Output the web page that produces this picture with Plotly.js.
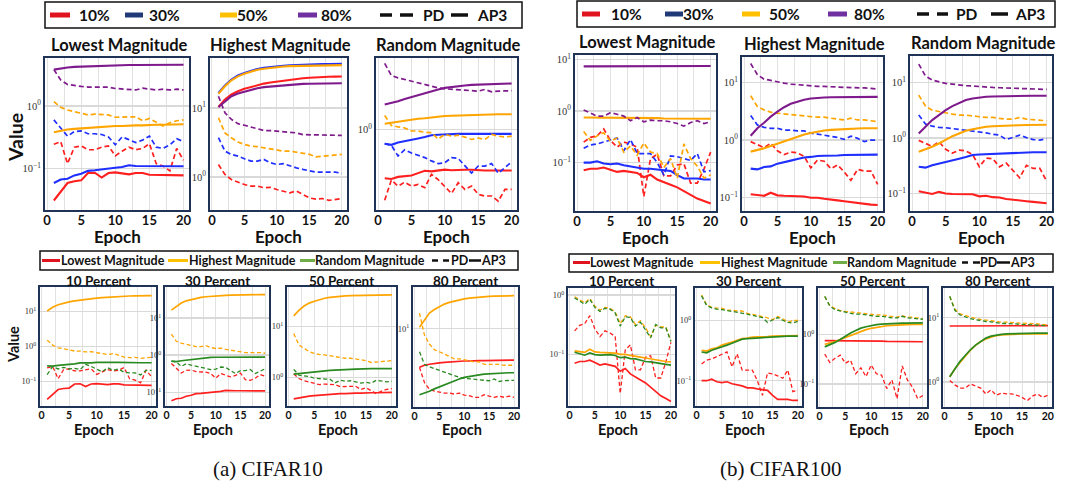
<!DOCTYPE html>
<html><head><meta charset="utf-8">
<script src="https://cdn.plot.ly/plotly-3.0.1.min.js"></script>
<style>html,body{margin:0;padding:0;background:#fff}#chart{width:1080px;height:493px}</style>
</head><body><div id="chart"></div>
<script>
// ---------------- DATA ----------------
const epochs = [1,2,3,4,5,6,7,8,9,10,11,12,13,14,15,16,17,18,19,20];
const percents = [10,30,50,80];
const methods = ['low','high','rand'];
const methodNames = {low:'Lowest Magnitude', high:'Highest Magnitude', rand:'Random Magnitude'};
const datasetNames = ['(a) CIFAR10','(b) CIFAR100'];
const yTickVals = [0.01,0.1,1,10,100];
const yTickText = ['10<sup>−2</sup>','10<sup>−1</sup>','10<sup>0</sup>','10<sup>1</sup>','10<sup>2</sup>'];
const xTickVals = [0,5,10,15,20];

// CIFAR10 - Lowest magnitude
const c10_low10_ap3 = [0.031,0.042,0.059,0.063,0.065,0.085,0.086,0.072,0.085,0.087,0.085,0.081,0.085,0.085,0.080,0.080,0.079,0.078,0.078,0.078];
const c10_low10_pd  = [0.245,0.27,0.12,0.22,0.23,0.20,0.20,0.22,0.23,0.16,0.19,0.22,0.20,0.21,0.25,0.12,0.11,0.092,0.21,0.136];
const c10_low30_ap3 = [0.059,0.067,0.069,0.078,0.083,0.092,0.094,0.096,0.10,0.103,0.106,0.113,0.11,0.11,0.11,0.109,0.109,0.109,0.109,0.109];
const c10_low30_pd  = [0.60,0.44,0.33,0.39,0.40,0.36,0.36,0.35,0.32,0.24,0.32,0.29,0.26,0.285,0.33,0.22,0.21,0.24,0.30,0.27];
const c10_low50_ap3 = [0.38,0.40,0.42,0.43,0.44,0.45,0.46,0.46,0.47,0.48,0.48,0.49,0.49,0.49,0.50,0.50,0.50,0.50,0.51,0.51];
const c10_low50_pd  = [1.17,0.95,0.86,0.81,0.76,0.72,0.74,0.73,0.72,0.66,0.67,0.67,0.67,0.58,0.63,0.55,0.48,0.54,0.58,0.60];
const c10_low80_ap3 = [3.8,4.0,4.1,4.2,4.25,4.3,4.35,4.4,4.4,4.45,4.45,4.5,4.5,4.5,4.5,4.5,4.55,4.55,4.55,4.55];
const c10_low80_pd  = [3.8,2.6,2.2,2.1,2.05,2.0,2.0,1.95,2.0,1.9,1.87,1.8,1.8,1.92,1.85,1.8,1.85,1.8,1.85,1.8];
// CIFAR10 - Highest magnitude
const c10_high10_ap3 = [10.3,13.2,15.6,17.4,18.8,20.1,21.2,22.4,23.2,24.0,24.8,25.6,26.2,26.8,27.2,27.7,27.9,28.1,28.2,28.3];
const c10_high10_pd  = [1.52,1.09,0.92,0.85,0.78,0.74,0.74,0.70,0.71,0.66,0.63,0.59,0.63,0.56,0.50,0.48,0.49,0.46,0.48,0.49];
const c10_high30_ap3 = [16.4,21,25.6,29.3,32,34.5,36.5,37.8,39,39.9,40.6,41.2,41.7,42.2,42.5,42.7,42.9,43,43.1,43.2];
const c10_high30_pd  = [3.7,2.37,2.12,2.01,1.84,1.7,1.7,1.8,1.61,1.52,1.56,1.44,1.36,1.29,1.22,1.18,1.18,1.19,1.18,1.13];
const c10_high50_ap3 = [16,20.5,25,28.5,31,33.5,35.5,36.8,38,38.8,39.5,40,40.3,40.6,40.8,41,41.1,41.2,41.3,41.4];
const c10_high50_pd  = [7.2,4.35,3.7,3.2,2.96,2.8,2.75,2.65,2.55,2.5,2.37,2.37,2.3,2.25,2.13,1.96,2.0,2.05,2.08,2.13];
const c10_high80_ap3 = [10.3,12.5,14.7,16.1,17.2,18.4,19.2,19.9,20.3,21,21.4,21.7,22,22.2,22.3,22.4,22.5,22.6,22.7,22.7];
const c10_high80_pd  = [14.7,8.5,6.8,5.9,5.6,5.3,5.0,4.7,4.7,4.6,4.5,4.35,4.35,4.1,4.1,4.1,4.1,4.0,4.0,4.0];
// CIFAR10 - Random magnitude
const c10_rand10_ap3 = [0.28,0.275,0.29,0.295,0.30,0.32,0.34,0.335,0.34,0.35,0.345,0.35,0.35,0.35,0.345,0.343,0.343,0.343,0.343,0.343];
const c10_rand10_pd  = [0.158,0.267,0.228,0.253,0.228,0.238,0.219,0.31,0.27,0.228,0.188,0.249,0.209,0.228,0.184,0.176,0.176,0.154,0.209,0.209];
const c10_rand30_ap3 = [0.69,0.67,0.71,0.74,0.77,0.79,0.82,0.86,0.87,0.88,0.885,0.89,0.89,0.89,0.89,0.89,0.89,0.89,0.89,0.89];
const c10_rand30_pd  = [0.69,0.66,0.50,0.59,0.54,0.51,0.48,0.44,0.41,0.42,0.48,0.47,0.385,0.32,0.385,0.385,0.41,0.32,0.37,0.43];
const c10_rand50_ap3 = [1.16,1.19,1.23,1.26,1.30,1.32,1.34,1.37,1.39,1.42,1.43,1.44,1.45,1.47,1.47,1.48,1.48,1.49,1.49,1.49];
const c10_rand50_pd  = [1.44,1.11,1.07,1.04,0.96,0.96,0.93,0.92,0.78,0.88,0.84,0.86,0.82,0.77,0.80,0.77,0.88,0.84,0.82,0.84];
const c10_rand80_ap3 = [1.92,2.0,2.09,2.22,2.34,2.45,2.6,2.72,2.84,2.96,3.04,3.1,3.15,3.2,3.23,3.26,3.29,3.3,3.32,3.32];
const c10_rand80_pd  = [5.6,4.09,3.85,3.68,3.53,3.38,3.23,3.1,2.96,2.89,2.84,2.8,2.79,2.75,2.72,2.84,2.67,2.72,2.75,2.75];

// CIFAR100 - Lowest magnitude
const c100_low10_ap3 = [0.071,0.076,0.076,0.080,0.073,0.066,0.069,0.066,0.063,0.052,0.058,0.047,0.041,0.037,0.033,0.028,0.024,0.020,0.018,0.016];
const c100_low10_pd  = [0.25,0.31,0.33,0.45,0.27,0.20,0.25,0.23,0.20,0.022,0.12,0.145,0.055,0.055,0.09,0.095,0.04,0.04,0.075,0.16];
const c100_low30_ap3 = [0.10,0.10,0.106,0.096,0.093,0.096,0.089,0.085,0.082,0.076,0.076,0.073,0.071,0.069,0.057,0.049,0.049,0.049,0.047,0.047];
const c100_low30_pd  = [0.19,0.22,0.23,0.25,0.27,0.30,0.17,0.28,0.15,0.15,0.15,0.10,0.057,0.135,0.13,0.12,0.11,0.15,0.066,0.07];
const c100_low50_ap3 = [0.75,0.75,0.75,0.75,0.74,0.74,0.74,0.74,0.73,0.73,0.73,0.73,0.72,0.72,0.72,0.72,0.72,0.71,0.71,0.71];
const c100_low50_pd  = [0.40,0.27,0.33,0.38,0.26,0.30,0.16,0.21,0.14,0.24,0.16,0.15,0.08,0.12,0.05,0.23,0.12,0.085,0.05,0.058];
const c100_low80_ap3 = [7.4,7.4,7.45,7.45,7.5,7.5,7.5,7.5,7.5,7.5,7.5,7.5,7.5,7.5,7.5,7.5,7.5,7.5,7.5,7.5];
const c100_low80_pd  = [1.05,0.90,0.80,0.80,0.93,0.87,0.80,0.65,0.75,0.62,0.67,0.65,0.65,0.62,0.575,0.51,0.60,0.65,0.575,0.62];
// CIFAR100 - Highest magnitude
const c100_high10_ap3 = [0.115,0.11,0.108,0.122,0.11,0.108,0.108,0.108,0.105,0.1,0.1,0.096,0.094,0.09,0.087,0.084,0.081,0.078,0.076,0.075];
const c100_high10_pd  = [0.94,0.84,0.74,0.88,0.65,0.56,0.62,0.6,0.52,0.33,0.45,0.43,0.32,0.37,0.28,0.2,0.31,0.29,0.29,0.17];
const c100_high30_ap3 = [0.32,0.31,0.34,0.35,0.39,0.42,0.44,0.47,0.5,0.51,0.53,0.533,0.533,0.54,0.55,0.55,0.56,0.56,0.56,0.56];
const c100_high30_pd  = [2.66,1.83,1.66,1.6,1.6,1.49,1.49,1.44,1.44,1.31,1.27,1.22,1.17,1.11,1.03,1.17,1.07,0.94,1.0,1.0];
const c100_high50_ap3 = [0.63,0.67,0.72,0.79,0.87,0.96,1.06,1.16,1.25,1.33,1.4,1.46,1.5,1.53,1.56,1.58,1.59,1.6,1.6,1.6];
const c100_high50_pd  = [5.85,3.81,3.34,3.04,2.92,2.84,2.73,2.62,2.55,2.55,2.49,2.49,2.39,2.29,2.23,2.39,2.23,2.23,2.17,2.09];
const c100_high80_ap3 = [1.19,1.6,2.0,2.55,3.12,3.71,4.25,4.66,4.99,5.26,5.4,5.47,5.52,5.55,5.57,5.58,5.59,5.6,5.6,5.6];
const c100_high80_pd  = [21.2,13.6,11.4,10.8,10.1,9.7,9.35,9.1,8.9,8.75,8.5,8.5,8.3,8.3,8.2,8.2,8.0,8.0,7.86,7.65];
// CIFAR100 - Random magnitude
const c100_rand10_ap3 = [0.109,0.103,0.097,0.106,0.099,0.097,0.097,0.099,0.096,0.088,0.09,0.085,0.084,0.079,0.076,0.075,0.072,0.07,0.068,0.066];
const c100_rand10_pd  = [0.9,0.8,0.7,0.85,0.62,0.53,0.6,0.58,0.5,0.3,0.43,0.42,0.3,0.35,0.26,0.19,0.32,0.28,0.28,0.165];
const c100_rand30_ap3 = [0.30,0.29,0.32,0.34,0.37,0.39,0.42,0.45,0.49,0.50,0.506,0.52,0.52,0.535,0.535,0.543,0.543,0.55,0.55,0.55];
const c100_rand30_pd  = [2.57,1.77,1.62,1.54,1.52,1.47,1.41,1.38,1.34,1.28,1.23,1.16,1.12,0.93,1.01,1.12,1.01,0.93,0.91,0.97];
const c100_rand50_ap3 = [0.56,0.62,0.69,0.79,0.93,1.07,1.2,1.34,1.43,1.52,1.58,1.62,1.65,1.67,1.69,1.69,1.7,1.71,1.72,1.72];
const c100_rand50_pd  = [5.9,3.73,3.16,2.95,2.83,2.68,2.57,2.57,2.46,2.4,2.33,2.33,2.24,2.17,2.17,2.33,2.17,2.14,2.09,2.03];
const c100_rand80_ap3 = [1.2,1.58,2.09,2.57,3.16,3.73,4.29,4.8,5.14,5.36,5.5,5.57,5.62,5.66,5.7,5.72,5.74,5.74,5.75,5.75];
const c100_rand80_pd  = [21.4,13,11,10.3,9.6,9.3,8.95,8.7,8.6,8.35,8.1,8.1,8.0,7.9,7.8,7.8,7.8,7.7,7.6,7.47];

const C10 = {
  low:  {10:{ap3:c10_low10_ap3,pd:c10_low10_pd},30:{ap3:c10_low30_ap3,pd:c10_low30_pd},50:{ap3:c10_low50_ap3,pd:c10_low50_pd},80:{ap3:c10_low80_ap3,pd:c10_low80_pd}},
  high: {10:{ap3:c10_high10_ap3,pd:c10_high10_pd},30:{ap3:c10_high30_ap3,pd:c10_high30_pd},50:{ap3:c10_high50_ap3,pd:c10_high50_pd},80:{ap3:c10_high80_ap3,pd:c10_high80_pd}},
  rand: {10:{ap3:c10_rand10_ap3,pd:c10_rand10_pd},30:{ap3:c10_rand30_ap3,pd:c10_rand30_pd},50:{ap3:c10_rand50_ap3,pd:c10_rand50_pd},80:{ap3:c10_rand80_ap3,pd:c10_rand80_pd}}
};
const C100 = {
  low:  {10:{ap3:c100_low10_ap3,pd:c100_low10_pd},30:{ap3:c100_low30_ap3,pd:c100_low30_pd},50:{ap3:c100_low50_ap3,pd:c100_low50_pd},80:{ap3:c100_low80_ap3,pd:c100_low80_pd}},
  high: {10:{ap3:c100_high10_ap3,pd:c100_high10_pd},30:{ap3:c100_high30_ap3,pd:c100_high30_pd},50:{ap3:c100_high50_ap3,pd:c100_high50_pd},80:{ap3:c100_high80_ap3,pd:c100_high80_pd}},
  rand: {10:{ap3:c100_rand10_ap3,pd:c100_rand10_pd},30:{ap3:c100_rand30_ap3,pd:c100_rand30_pd},50:{ap3:c100_rand50_ap3,pd:c100_rand50_pd},80:{ap3:c100_rand80_ap3,pd:c100_rand80_pd}}
};

// ---------------- STYLE / LAYOUT ----------------
const W = 1080, H = 493;
const px = x => x / W, py = y => 1 - y / H;
const pctColors = {10:'#ff1f1f', 30:'#1f2fff', 50:'#ffa500', 80:'#7f1a8c'};
const methColors = {low:'#ff1f1f', high:'#ffa500', rand:'#2a8a22'};
const frameColor = '#1f3356';
const gridColor = '#e2e2e2';
const SANS = 'Lato, "Open Sans", sans-serif';
const SERIF = '"Liberation Serif", "DejaVu Serif", serif';

const topPanels = [
  {ds:C10,  m:'low',  x:[45,189],  y:[58,210], yr:[-1.66,0.765], ey:236.5},
  {ds:C10,  m:'high', x:[210,347], y:[58,210], yr:[-0.476,1.72], ey:236.5},
  {ds:C10,  m:'rand', x:[376,517], y:[58,210], yr:[-0.913,0.81], ey:236.5},
  {ds:C100, m:'low',  x:[575,716], y:[55,211], yr:[-1.94,1.09],  ey:237.5},
  {ds:C100, m:'high', x:[742,883], y:[57,211], yr:[-1.23,1.44],  ey:237.5},
  {ds:C100, m:'rand', x:[910,1052],y:[56,211], yr:[-1.32,1.476], ey:237.5}
];
const botPanels = [
  {ds:C10,  p:10, x:[40,156],  y:[287,406], yr:[-1.70,1.70]},
  {ds:C10,  p:30, x:[165,269], y:[287,406], yr:[-1.37,1.84]},
  {ds:C10,  p:50, x:[287,396], y:[287,406], yr:[-0.56,1.77]},
  {ds:C10,  p:80, x:[413,518], y:[287,407], yr:[0.15,1.45]},
  {ds:C100, p:10, x:[568,675], y:[288,406], yr:[-1.87,0.12]},
  {ds:C100, p:30, x:[695,802], y:[288,406], yr:[-1.42,0.54]},
  {ds:C100, p:50, x:[818,927], y:[288,407], yr:[-1.47,0.94]},
  {ds:C100, p:80, x:[943,1052],y:[288,407], yr:[-0.39,1.46]}
];

const traces = [];
const layout = {
  width: W, height: H, margin:{l:0,r:0,t:0,b:0},
  paper_bgcolor:'#ffffff', plot_bgcolor:'#ffffff',
  showlegend:false, annotations:[], shapes:[], font:{family:SANS, color:'#111'}
};
let axN = 0;
function addAxes(p, big){
  axN++;
  const xs = axN === 1 ? '' : String(axN);
  // keep only the decade ticks that fall inside this panel's range
  const tv = [], tt = [];
  yTickVals.forEach((v, i) => {
    const lv = Math.log10(v);
    if (lv >= p.yr[0] && lv <= p.yr[1]) { tv.push(v); tt.push(yTickText[i]); }
  });
  layout['xaxis'+xs] = {
    domain:[px(p.x[0]), px(p.x[1])], anchor:'y'+xs, range:[-0.3,20.8],
    tickvals:xTickVals, ticktext:xTickVals.map(v=>'<b>'+v+'</b>'),
    tickfont:{family:SANS, size: big?13:10.5, color:'#111'}, ticklabelstandoff: big?-3:-2,
    showgrid:true, gridcolor:gridColor, gridwidth:1, zeroline:false,
    minor:{dtick:2.5, tick0:0, showgrid:true, gridcolor:gridColor, gridwidth:1},
    showline:true, mirror:true, linecolor:frameColor, linewidth:2, ticks:'', fixedrange:true
  };
  layout['yaxis'+xs] = {
    domain:[py(p.y[1]), py(p.y[0])], anchor:'x'+xs, type:'log', range:p.yr,
    tickmode:'array', tickvals:tv, ticktext:tt,
    tickfont:{family:SERIF, size: big?10.5:8.5, color:'#333'},
    showgrid:true, gridcolor:'#d9d9d9', gridwidth:1.5, zeroline:false,
    showline:true, mirror:true, linecolor:frameColor, linewidth:2, ticks:'', fixedrange:true
  };
  return {xa:'x'+xs, ya:'y'+xs};
}
function addText(text, x, y, size, opts){
  layout.annotations.push(Object.assign({
    text:text, x:px(x), y:py(y), xref:'paper', yref:'paper', showarrow:false,
    xanchor:'center', yanchor:'middle', borderpad:0, font:{family:SANS, size:size, color:'#111'}
  }, opts||{}));
}
function addLine(x0,x1,y,color,width){
  layout.shapes.push({type:'line', xref:'paper', yref:'paper', x0:px(x0), x1:px(x1), y0:py(y), y1:py(y),
    line:{color:color, width:width}});
}
function addBox(x0,x1,y0,y1){
  layout.shapes.push({type:'rect', xref:'paper', yref:'paper', x0:px(x0), x1:px(x1), y0:py(y1), y1:py(y0),
    line:{color:'#111', width:1.5}, fillcolor:'rgba(0,0,0,0)'});
}

// top panels: one line per pruning percentage
topPanels.forEach(p => {
  const a = addAxes(p, true);
  percents.forEach(pc => {
    traces.push({x:epochs, y:p.ds[p.m][pc].pd, xaxis:a.xa, yaxis:a.ya, mode:'lines', hoverinfo:'skip',
      line:{color:pctColors[pc], width:1.7, dash:'5px,3px'}});
    traces.push({x:epochs, y:p.ds[p.m][pc].ap3, xaxis:a.xa, yaxis:a.ya, mode:'lines', hoverinfo:'skip',
      line:{color:pctColors[pc], width:2.1}});
  });
  const cx = (p.x[0]+p.x[1])/2;
  addText('<b>'+methodNames[p.m]+'</b>', cx + 2, p.y[0] - 13, 16.5);
  addText('<b>Epoch</b>', cx, p.ey, 17);
});
// bottom panels: one line per pruning method
botPanels.forEach(p => {
  const a = addAxes(p, false);
  methods.forEach(m => {
    traces.push({x:epochs, y:p.ds[m][p.p].pd, xaxis:a.xa, yaxis:a.ya, mode:'lines', hoverinfo:'skip',
      line:{color:methColors[m], width:1.3, dash:'4px,2.5px'}});
    traces.push({x:epochs, y:p.ds[m][p.p].ap3, xaxis:a.xa, yaxis:a.ya, mode:'lines', hoverinfo:'skip',
      line:{color:methColors[m], width:1.7}});
  });
  const cx = (p.x[0]+p.x[1])/2;
  addText('<b>'+p.p+' Percent</b>', cx, 281, 13.5);
  addText('<b>Epoch</b>', cx - 4, 429, 14.5);
});

// y-axis labels
addText('<b>Value</b>', 15, 138, 19.5, {textangle:-90});
addText('<b>Value</b>', 13, 345, 14.5, {textangle:-90});

// captions
addText(datasetNames[0], 268, 469, 21, {font:{family:SERIF, size:21, color:'#111'}});
addText(datasetNames[1], 781, 469, 21, {font:{family:SERIF, size:21, color:'#111'}});

// legends for top rows (percent colours + line style)
const legSwatch = {10:'#e0141e', 30:'#203a78', 50:'#ffc000', 80:'#7030a0'};
function topLegend(box, items, pd, ap3, yc){
  addBox(box[0], box[1], box[2], box[3]);
  items.forEach(it => {
    addLine(it.s[0], it.s[1], yc, legSwatch[it.p], 5);
    addText('<b>'+it.p+'%</b>', it.t, yc, 15.5);
  });
  addLine(pd.d1[0], pd.d1[1], yc, '#111', 3.5);
  addLine(pd.d2[0], pd.d2[1], yc, '#111', 3.5);
  addText('<b>PD</b>', pd.t, yc, 15.5);
  addLine(ap3.s[0], ap3.s[1], yc, '#111', 3.5);
  addText('<b>AP3</b>', ap3.t, yc, 15.5);
}
topLegend([45,522,2,28],
  [{p:10,s:[50,70],t:94},{p:30,s:[125,143],t:164},{p:50,s:[220,237],t:252},{p:80,s:[298,317],t:336}],
  {d1:[380,392],d2:[400,413],t:434}, {s:[451,468],t:492}, 15);
topLegend([577,1055,1,27],
  [{p:10,s:[582,600],t:626},{p:30,s:[665,683],t:698},{p:50,s:[742,760],t:784},{p:80,s:[828,847],t:869}],
  {d1:[917,929],d2:[937,948],t:967}, {s:[991,1008],t:1030}, 14);

// legends for bottom rows (method colours + line style)
const legMeth = {low:'#e0141e', high:'#ffc000', rand:'#70ad47'};
function botLegend(box, items, pd, ap3, yc){
  addBox(box[0], box[1], box[2], box[3]);
  items.forEach(it => {
    addLine(it.s[0], it.s[1], yc, legMeth[it.m], 3);
    addText('<b>'+methodNames[it.m]+'</b>', it.t, yc, 12.5, {xanchor:'left'});
  });
  addLine(pd.d1[0], pd.d1[1], yc, '#111', 2.5);
  addLine(pd.d2[0], pd.d2[1], yc, '#111', 2.5);
  addText('<b>PD</b>', pd.t, yc, 12.5, {xanchor:'left'});
  addLine(ap3.s[0], ap3.s[1], yc, '#111', 2.5);
  addText('<b>AP3</b>', ap3.t, yc, 12.5, {xanchor:'left'});
}
botLegend([40,518,251,270],
  [{m:'low',s:[42,60],t:60},{m:'high',s:[168,188],t:188},{m:'rand',s:[300,315],t:314}],
  {d1:[432,438],d2:[443,449],t:450}, {s:[469,481],t:480}, 260.5);
botLegend([569,1053,254,272],
  [{m:'low',s:[573,590],t:589},{m:'high',s:[700,720],t:720},{m:'rand',s:[833,847],t:846}],
  {d1:[962,968],d2:[973,980],t:979}, {s:[997,1010],t:1009}, 262.5);

Plotly.newPlot('chart', traces, layout, {staticPlot:true, displayModeBar:false});
</script>
</body></html>
